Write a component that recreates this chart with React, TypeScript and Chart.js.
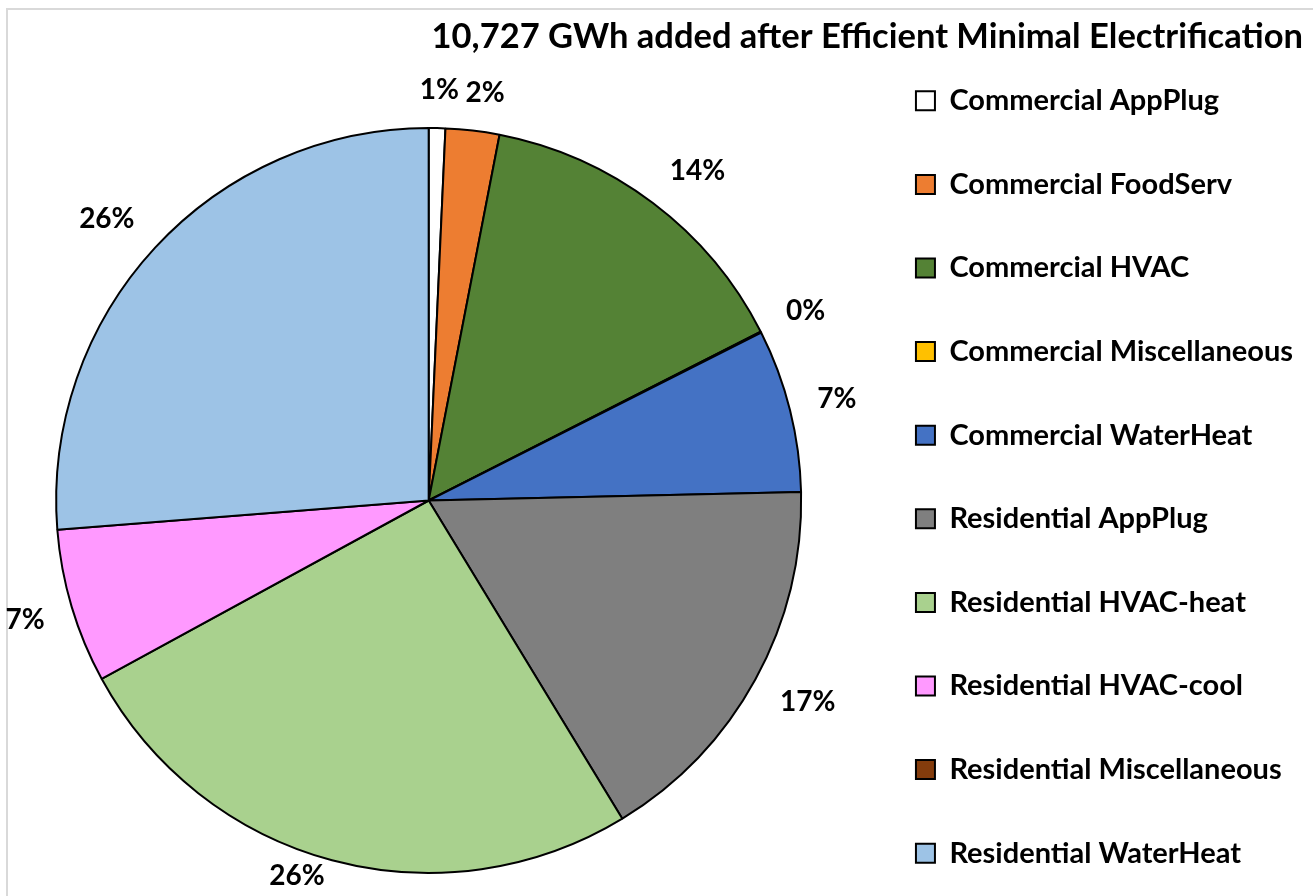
import React, { useEffect, useRef } from 'react';
import { Chart, registerables } from 'chart.js';

Chart.register(...registerables);

const TITLE = '10,727 GWh added after Efficient Minimal Electrification';

const categories = [
  'Commercial AppPlug',
  'Commercial FoodServ',
  'Commercial HVAC',
  'Commercial Miscellaneous',
  'Commercial WaterHeat',
  'Residential AppPlug',
  'Residential HVAC-heat',
  'Residential HVAC-cool',
  'Residential Miscellaneous',
  'Residential WaterHeat',
];

// GWh added per end use (total 10,727 GWh)
const valuesGWh = [77, 250, 1552, 5, 759, 1787, 2763, 718, 0, 2816];

const sliceColors = [
  '#FFFFFF',
  '#ED7D31',
  '#548235',
  '#FFC000',
  '#4472C4',
  '#7F7F7F',
  '#A9D18E',
  '#FF99FF',
  '#843C0C',
  '#9DC3E6',
];

const FONT = 'Lato';

const clamp1 = (v: number) => Math.max(-1, Math.min(1, v));

const outsideLabels = {
  id: 'outsideLabels',
  afterDatasetsDraw(chart: any) {
    const ctx = chart.ctx;
    const meta = chart.getDatasetMeta(0);
    const data = chart.data.datasets[0].data as number[];
    const total = data.reduce((a: number, b: number) => a + b, 0);
    ctx.save();
    ctx.font = `bold 28px ${FONT}`;
    ctx.fillStyle = '#000';
    ctx.textAlign = 'center';
    ctx.textBaseline = 'middle';
    meta.data.forEach((arc: any, i: number) => {
      const v = data[i];
      if (!v) return;
      const { x, y, startAngle, endAngle, outerRadius } = arc.getProps(
        ['x', 'y', 'startAngle', 'endAngle', 'outerRadius'],
        true
      );
      const mid = (startAngle + endAngle) / 2;
      const text = Math.round((v / total) * 100) + '%';
      const hw = ctx.measureText(text).width / 2;
      const hh = 10;
      const c = Math.cos(mid);
      const s = Math.sin(mid);
      const R = outerRadius + 28;
      const lx = x + R * c + hw * clamp1(4 * c);
      let ly = y + R * s + hh * clamp1(2 * s);
      ly = Math.min(ly, chart.chartArea.bottom + 2);
      ctx.fillText(text, lx, ly);
    });
    ctx.restore();
  },
};

export default function App() {
  const ref = useRef<HTMLCanvasElement | null>(null);

  useEffect(() => {
    if (!ref.current) return;
    Chart.defaults.font.family = FONT;
    const chart = new Chart(ref.current, {
      type: 'pie',
      data: {
        labels: categories,
        datasets: [
          {
            data: valuesGWh,
            backgroundColor: sliceColors,
            borderColor: '#000000',
            borderWidth: 2,
          },
        ],
      },
      options: {
        responsive: false,
        maintainAspectRatio: false,
        animation: false,
        devicePixelRatio: 1,
        events: [],
        layout: { padding: { left: 0, right: 10, top: 20, bottom: 0 } },
        plugins: {
          tooltip: { enabled: false },
          title: {
            display: true,
            text: TITLE,
            align: 'end',
            color: '#000',
            font: { family: FONT, weight: 'bold', size: 34.5, lineHeight: 1 },
            padding: { top: 0, bottom: 72.5 },
          },
          subtitle: {
            display: true,
            position: 'bottom',
            text: '',
            font: { size: 10, lineHeight: 1 },
            padding: { top: 50, bottom: 0 },
          },
          legend: {
            display: true,
            position: 'right',
            align: 'center',
            labels: {
              boxWidth: 19,
              boxHeight: 19,
              padding: 54.6,
              color: '#000',
              font: { family: FONT, weight: 'bold', size: 29 },
            },
          },
        },
      },
      plugins: [outsideLabels],
    } as any);
    return () => chart.destroy();
  }, []);

  return (
    <div
      style={{
        position: 'fixed',
        left: 0,
        top: 0,
        right: 0,
        bottom: 0,
        overflow: 'hidden',
        background: '#fff',
      }}
    >
      <div
        style={{
          position: 'absolute',
          left: 6,
          top: 8,
          right: -20,
          bottom: -20,
          borderTop: '2px solid #d9d9d9',
          borderLeft: '2px solid #d9d9d9',
        }}
      />
      <canvas
        ref={ref}
        width={1317}
        height={934}
        style={{ position: 'absolute', left: -4, top: 0, width: 1317, height: 934, display: 'block' }}
      />
    </div>
  );
}
